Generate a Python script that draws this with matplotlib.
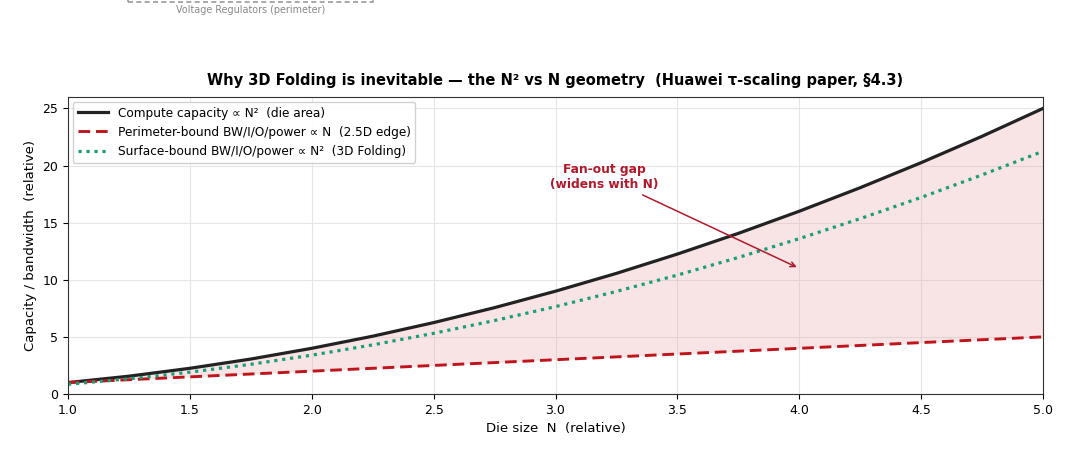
import matplotlib
matplotlib.use("Agg")
import matplotlib.pyplot as plt
from matplotlib.patches import Rectangle

N = [1.0, 1.25, 1.5, 1.75, 2.0, 2.25, 2.5, 2.75, 3.0, 3.25, 3.5, 3.75, 4.0, 4.25, 4.5, 4.75, 5.0]
compute = [1.0, 1.56, 2.25, 3.06, 4.0, 5.06, 6.25, 7.56, 9.0, 10.56, 12.25, 14.06, 16.0, 18.06, 20.25, 22.56, 25.0]
perimeter = [1.0, 1.25, 1.5, 1.75, 2.0, 2.25, 2.5, 2.75, 3.0, 3.25, 3.5, 3.75, 4.0, 4.25, 4.5, 4.75, 5.0]
surface = [0.85, 1.33, 1.91, 2.60, 3.40, 4.30, 5.31, 6.43, 7.65, 8.98, 10.41, 11.95, 13.60, 15.35, 17.21, 19.18, 21.25]

fig = plt.figure(figsize=(10.8, 4.59), dpi=100)
ax = fig.add_axes([68/1080, 1-394/459, (1043-68)/1080, (394-97)/459])

ax.fill_between(N, perimeter, compute, color="#e8a0a4", alpha=0.28, linewidth=0)
ax.plot(N, compute, color="#222222", lw=2.3, label="Compute capacity ∝ N²  (die area)")
ax.plot(N, perimeter, color="#c0141c", lw=2.1, ls=(0, (4, 2)), label="Perimeter-bound BW/I/O/power ∝ N  (2.5D edge)")
ax.plot(N, surface, color="#1a9e77", lw=2.3, ls=(0, (1, 1.5)), label="Surface-bound BW/I/O/power ∝ N²  (3D Folding)")

ax.set_xlim(1.0, 5.0)
ax.set_ylim(0, 26)
ax.grid(True, color="#e6e6e6", lw=0.8)
ax.set_axisbelow(True)
ax.tick_params(labelsize=9)
ax.set_xlabel("Die size  N  (relative)", fontsize=9.5)
ax.set_ylabel("Capacity / bandwidth  (relative)", fontsize=9.5)
ax.set_title("Why 3D Folding is inevitable — the N² vs N geometry  (Huawei τ-scaling paper, §4.3)",
             fontsize=10.5, fontweight="bold", pad=9)
for s in ax.spines.values():
    s.set_color("#333333")

ax.annotate("Fan-out gap\n(widens with N)", xy=(4.0, 11.0), xytext=(3.2, 19.0),
            ha="center", va="center", fontsize=8.8, fontweight="bold", color="#b2182b",
            arrowprops=dict(arrowstyle="->", color="#b2182b", lw=1.1))

leg = ax.legend(loc="upper left", fontsize=8.7, frameon=True, framealpha=0.9,
                edgecolor="#cccccc", borderaxespad=0.4, handlelength=2.5)

# cropped top fragment of a previous panel
fig.patches.append(Rectangle((128/1080, 1-2/459), (373-128)/1080, 0.2, transform=fig.transFigure,
                             fill=False, ls=(0, (3, 2)), lw=1.2, edgecolor="#999999"))
fig.text(251/1080, 1-10/459, "Voltage Regulators (perimeter)", ha="center", va="center",
         fontsize=6.9, color="#888888")

fig.savefig("out.png", dpi=100)
